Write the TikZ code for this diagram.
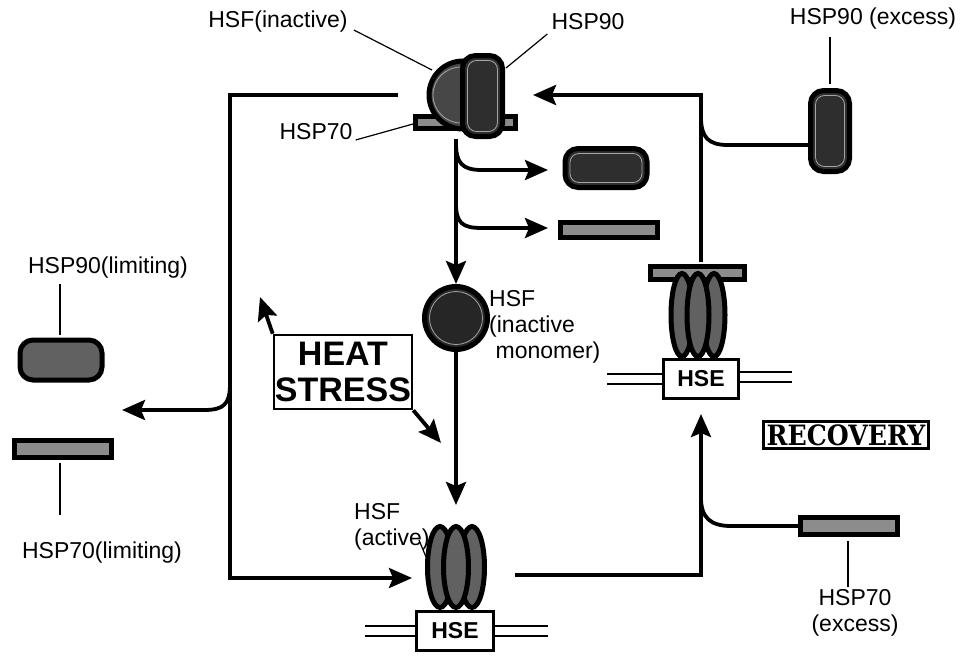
\documentclass[tikz,border=0pt]{standalone}
\usepackage{fontspec}
\setmainfont{Liberation Sans}
\newfontfamily\recfont{DejaVu Serif}
\usetikzlibrary{arrows.meta,shapes.geometric}
\begin{document}
\begin{tikzpicture}[x=1pt,y=-1pt,
  conn/.style={line width=3.8pt,-{Stealth[length=23pt,width=20pt,inset=4pt]}},
  plain/.style={line width=3.8pt},
  lead/.style={line width=1.2pt},
  dna/.style={line width=2pt},
  barbox/.style={rectangle,draw=black,line width=5pt,fill=black!45,inner sep=0pt},
  pill/.style={rectangle,rounded corners=13pt,draw=black,line width=5pt,fill=black!82,inner sep=0pt},
  pillg/.style={rectangle,rounded corners=13pt,draw=black,line width=5pt,fill=black!62,inner sep=0pt},
  oval/.style={ellipse,draw=black,line width=5pt,fill=black!62,inner sep=0pt},
  ring/.style={draw=black!35,line width=0.8pt},
  hsebox/.style={rectangle,draw=black,line width=3pt,fill=white,inner sep=0pt,font=\bfseries\fontsize{23}{23}\selectfont},
  lbl/.style={font=\fontsize{23}{26}\selectfont,inner sep=0pt}]
\useasboundingbox (0,0) rectangle (964,656);

% ---------- top complex ----------
\node[barbox,minimum width=100pt,minimum height=12pt] (c70) at (465.5,122.5) {};
\draw[line width=5pt,fill=black!72] (463,61) arc[start angle=-90,end angle=-270,radius=34] -- cycle;
\draw[ring] (461,67) arc[start angle=-90,end angle=-270,radius=28];
\node[pill,minimum width=40pt,minimum height=81pt] (c90) at (482.5,96) {};
\node[ring,rectangle,rounded corners=9pt,minimum width=30pt,minimum height=71pt] at (482.5,96) {};
\coordinate (cbot) at (456,139);
\node[lbl] (tHSF) at (278,22) {HSF(inactive)};
\node[lbl] (tH90) at (588,22) {HSP90};
\node[lbl] (tH70) at (316,132) {HSP70};
\draw[lead] (tHSF.east) ++(6,8) -- (432,70);
\draw[lead] (tH90.west) ++(-4,12) -- (506,68);
\draw[lead] (tH70.east) ++(3,8) -- (413,124);

% ---------- released HSP90 / HSP70 ----------
\node[pill,minimum width=82pt,minimum height=39pt] (r90) at (606,168) {};
\node[ring,rectangle,rounded corners=9pt,minimum width=72pt,minimum height=29pt] at (606,168) {};
\node[barbox,minimum width=97pt,minimum height=15pt] (r70) at (609,230) {};
\coordinate (r90in) at (548,170);
\coordinate (r70in) at (548,228);
\draw[conn] (456,143) .. controls (456,163) and (462,170) .. (482,170) -- (r90in);
\draw[conn] (456,203) .. controls (456,223) and (462,228) .. (482,228) -- (r70in);

% ---------- monomer ----------
\node[circle,draw=black,line width=5pt,fill=black!85,minimum size=63pt,inner sep=0pt] (mono) at (456,318) {};
\node[ring,circle,minimum size=53pt,inner sep=0pt] at (456,318) {};
\draw[conn] (cbot) -- (mono.north);
\node[lbl,align=left,anchor=north west] (tmono) at (489,290) {HSF\\(inactive\\\ monomer)};

% ---------- active trimer ----------
\coordinate (trtop) at (456,505);
\draw[conn] (mono.south) -- (trtop);
\node[oval,minimum width=25pt,minimum height=81pt] (a1) at (440,567) {};
\node[oval,minimum width=25pt,minimum height=81pt] (a3) at (472,567) {};
\node[oval,minimum width=25pt,minimum height=81pt] (a2) at (456,567) {};
\node[hsebox,minimum width=77pt,minimum height=39pt] (hse1) at (455,631) {HSE};
\draw[dna] (365,626) -- (415,626); \draw[dna] (365,636) -- (415,636);
\draw[dna] (495,626) -- (548,626); \draw[dna] (495,636) -- (548,636);
\node[lbl,align=left,anchor=north west] (tact) at (354,503) {HSF\\(active)};
\draw[lead] (419,540) -- (426,557);

% ---------- left loop ----------
\coordinate (loopstart) at (398,95);
\coordinate (loopend) at (412,578);
\draw[conn] (loopstart) -- (230,95) -- (230,578) -- (loopend);
\coordinate (limtip) at (122,410);
\draw[conn] (230,384) .. controls (230,404) and (224,410) .. (204,410) -- (limtip);

\node[pillg,minimum width=82pt,minimum height=40pt] (l90) at (61,360) {};
\node[barbox,minimum width=97pt,minimum height=17pt] (l70) at (63,449) {};
\node[lbl] (tl90) at (108,268) {HSP90(limiting)};
\node[lbl] (tl70) at (102,553) {HSP70(limiting)};
\draw[lead] (60,284) -- (60,335);
\draw[lead] (60,463) -- (60,515);

% ---------- heat stress ----------
\node[draw=black,line width=2.6pt,minimum width=138pt,minimum height=74pt,inner sep=0pt,
      font=\bfseries\fontsize{34}{36}\selectfont,align=center] (heat) at (343,372) {HEAT\\STRESS};
\coordinate (heatup) at (260,297);
\coordinate (heatdn) at (441,443);
\draw[conn] (heat.north west) -- (heatup);
\draw[conn] (heat.south east) -- (heatdn);

% ---------- recovery complex ----------
\node[barbox,minimum width=94pt,minimum height=13pt] (rc70) at (697,273) {};
\node[oval,minimum width=22pt,minimum height=83pt] (b1) at (682,315) {};
\node[oval,minimum width=22pt,minimum height=83pt] (b3) at (714,315) {};
\node[oval,minimum width=22pt,minimum height=83pt] (b2) at (698,315) {};
\node[hsebox,minimum width=75pt,minimum height=39pt] (hse2) at (701,379) {HSE};
\draw[dna] (607,374) -- (663,374); \draw[dna] (607,384) -- (663,384);
\draw[dna] (739,372) -- (792,372); \draw[dna] (739,382) -- (792,382);

\coordinate (bottomstart) at (515,575);
\coordinate (rectip) at (701,414);
\draw[conn] (bottomstart) -- (701,575) -- (rectip);
\coordinate (toptip) at (533,95);
\draw[conn] (701,262) -- (701,95) -- (toptip);

% ---------- excess ----------
\node[pill,minimum width=39pt,minimum height=81pt] (e90) at (830,131) {};
\node[ring,rectangle,rounded corners=9pt,minimum width=29pt,minimum height=71pt] at (830,131) {};
\node[lbl] (te90) at (873,19) {HSP90 (excess)};
\draw[lead] (830,37) -- (830,84);
\draw[plain] (808,145) -- (728,145) .. controls (708,145) and (701,137) .. (701,117);

\node[barbox,minimum width=97pt,minimum height=17pt] (e70) at (849,526) {};
\draw[plain] (e70.west) -- (731,526) .. controls (711,526) and (701,518) .. (701,498);
\draw[lead] (848,541) -- (848,587);
\node[lbl,align=center] (te70) at (855,613) {HSP70\\(excess)};

\node[draw=black,line width=2.4pt,inner xsep=3pt,inner ysep=3pt,
      font=\recfont\bfseries\fontsize{28}{28}\selectfont] (rec) at (846,435) {\scalebox{0.9}[1]{RECOVERY}};
\end{tikzpicture}
\end{document}
